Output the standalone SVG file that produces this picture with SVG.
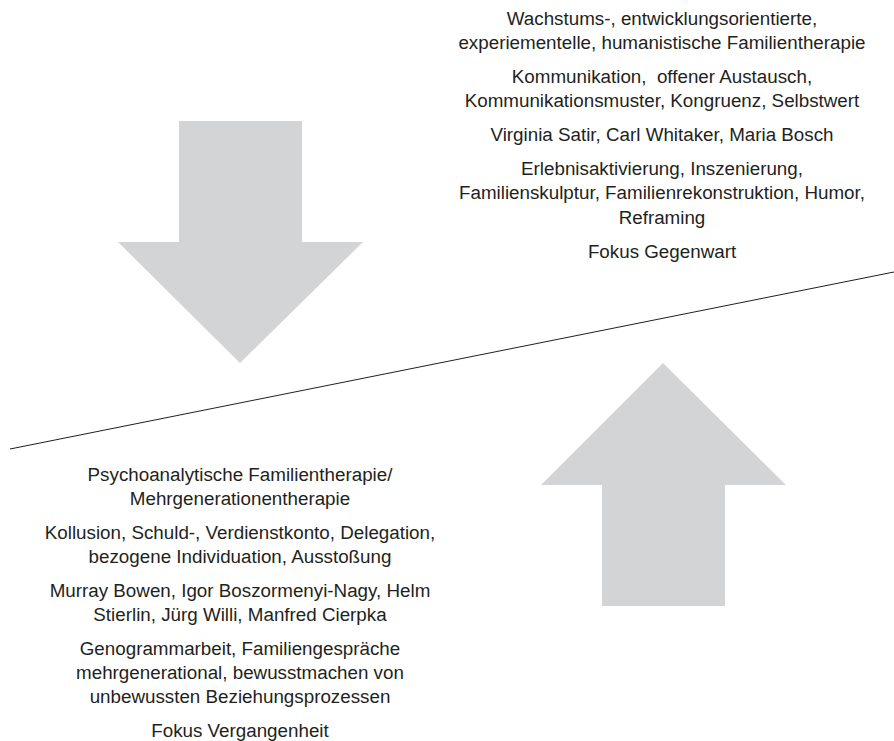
<svg xmlns="http://www.w3.org/2000/svg" width="894" height="741" viewBox="0 0 894 741">
<style>
.t{font-family:"Liberation Sans",Arial,sans-serif;font-size:18.8px;fill:#231f20;text-anchor:middle}
.arrow{fill:#d3d4d6;stroke:none}
.sep{stroke:#231f20;stroke-width:1;fill:none}
</style>
<rect width="894" height="741" fill="#ffffff"/>
<g id="arrow-down">
<polygon class="arrow" points="179,121 302,121 302,242 363,242 240,363 118,242 179,242"/>
</g>
<g id="arrow-up">
<polygon class="arrow" points="663,363 786,485 725,485 725,606 602,606 602,485 541,485"/>
</g>
<g id="connectors">
<line class="sep" x1="10" y1="449" x2="894" y2="272"/>
</g>
<g id="top-text">
<text class="t" x="662" y="25">Wachstums-, entwicklungsorientierte,</text>
<text class="t" x="662" y="49">experiementelle, humanistische Familientherapie</text>
<text class="t" x="662" y="83" xml:space="preserve">Kommunikation,  offener Austausch,</text>
<text class="t" x="662" y="107">Kommunikationsmuster, Kongruenz, Selbstwert</text>
<text class="t" x="662" y="141">Virginia Satir, Carl Whitaker, Maria Bosch</text>
<text class="t" x="662" y="175">Erlebnisaktivierung, Inszenierung,</text>
<text class="t" x="662" y="199">Familienskulptur, Familienrekonstruktion, Humor,</text>
<text class="t" x="662" y="224">Reframing</text>
<text class="t" x="662" y="258">Fokus Gegenwart</text>
</g>
<g id="bottom-text">
<text class="t" x="240" y="481">Psychoanalytische Familientherapie/</text>
<text class="t" x="240" y="505">Mehrgenerationentherapie</text>
<text class="t" x="240" y="539">Kollusion, Schuld-, Verdienstkonto, Delegation,</text>
<text class="t" x="240" y="563">bezogene Individuation, Ausstoßung</text>
<text class="t" x="240" y="597">Murray Bowen, Igor Boszormenyi-Nagy, Helm</text>
<text class="t" x="240" y="621">Stierlin, Jürg Willi, Manfred Cierpka</text>
<text class="t" x="240" y="655">Genogrammarbeit, Familiengespräche</text>
<text class="t" x="240" y="679">mehrgenerational, bewusstmachen von</text>
<text class="t" x="240" y="703">unbewussten Beziehungsprozessen</text>
<text class="t" x="240" y="737">Fokus Vergangenheit</text>
</g>
</svg>
